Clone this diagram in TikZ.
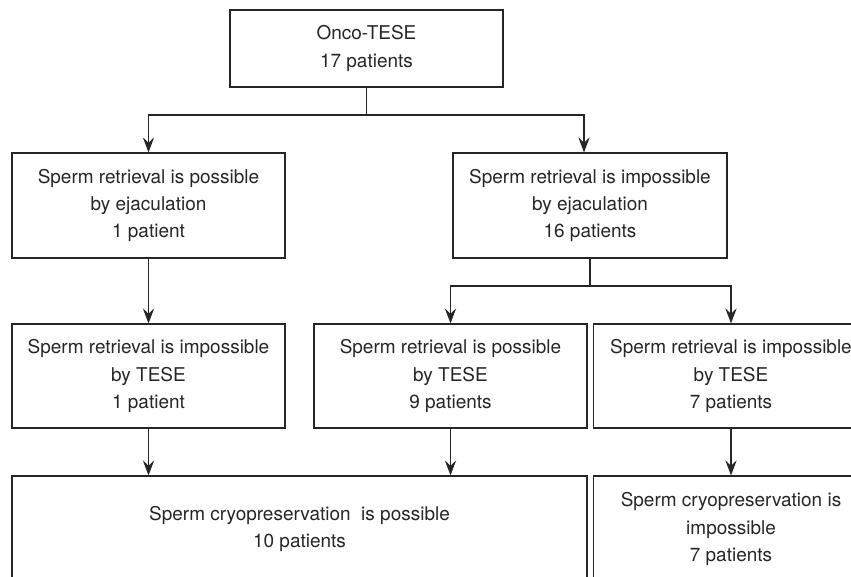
\documentclass[tikz,border=0pt]{standalone}
\usepackage{fontspec}
\setmainfont{TeX Gyre Heros}
\usepackage{tikz}
\usetikzlibrary{arrows.meta,positioning,calc}

\begin{document}
\begin{tikzpicture}[x=0.02cm,y=-0.02cm,
    box/.style={draw=black!85,line width=0.7pt,text=black!85,align=center,
      minimum width=5.46cm,minimum height=2.1cm,inner sep=0pt,
      font=\fontsize{10.8}{15.4}\selectfont},
    arr/.style={draw=black!85,line width=0.6pt,-{Stealth[length=8.5pt,width=6.4pt,inset=3pt]}},
    lin/.style={draw=black!85,line width=0.6pt}]
    \useasboundingbox (0,0) rectangle (851,577);
    \clip (0,0) rectangle (851,577);

    \node [box,minimum height=1.54cm] (onco) at (366.5,48.5) {Onco-TESE\\17 patients};
    \node [box] (ejacyes) at (148.5,205.5) {Sperm retrieval is possible\\by ejaculation\\1 patient};
    \node [box,minimum width=5.48cm] (ejacno) at (590,205.5) {Sperm retrieval is impossible\\by ejaculation\\16 patients};
    \node [box,minimum height=2.08cm] (teseno1) at (148.5,376) {Sperm retrieval is impossible\\by TESE\\1 patient};
    \node [box,minimum height=2.08cm] (teseyes) at (450.5,376) {Sperm retrieval is possible\\by TESE\\9 patients};
    \node [box,minimum height=2.08cm,minimum width=5.5cm] (teseno2) at (731,376) {Sperm retrieval is impossible\\by TESE\\7 patients};
    \node [box,minimum height=2.12cm,minimum width=11.5cm] (cryoyes) at (299.5,529) {Sperm cryopreservation~ is possible\\10 patients};
    \node [box,minimum height=2.12cm,minimum width=5.5cm] (cryono) at (731,529) {Sperm cryopreservation is\\impossible\\7 patients};

    \coordinate (split1) at (onco.south |- 0,115);
    \coordinate (split2) at (ejacno.south |- 0,286);
    \draw [lin] (onco.south) -- (split1);
    \draw [arr] (split1) -| (ejacyes.north);
    \draw [arr] (split1) -| (ejacno.north -| 584,0);
    \draw [arr] (ejacyes.south) -- (teseno1.north);
    \draw [lin] (ejacno.south) -- (split2);
    \draw [arr] (split2) -| (teseyes.north);
    \draw [arr] (split2) -| (teseno2.north);
    \draw [arr] (teseno1.south) -- (teseno1.south |- cryoyes.north);
    \draw [arr] (teseyes.south) -- (teseyes.south |- cryoyes.north);
    \draw [arr] (teseno2.south) -- (cryono.north);
  \end{tikzpicture}
\end{document}
